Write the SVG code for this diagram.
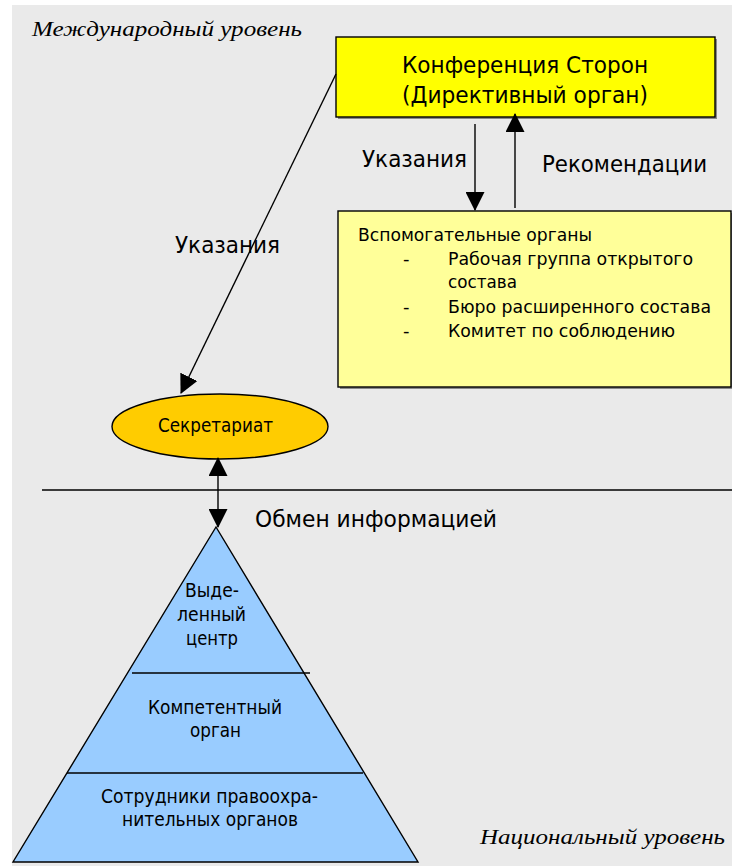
<svg xmlns="http://www.w3.org/2000/svg" width="732" height="866" viewBox="0 0 732 866">
  <style>
    .sans { font-family: "DejaVu Sans", "Noto Sans", sans-serif; fill: #000; }
    .level { font-family: "Liberation Serif", "DejaVu Serif", serif; font-style: italic; font-size: 22px; fill: #000; }
    .edge { stroke: #000; stroke-width: 1.4; fill: none; }
    .box { stroke: #000; stroke-width: 1.4; }
    .shadow { fill: #8a8a8a; }
  </style>
  <defs>
    <marker id="arrow" markerUnits="userSpaceOnUse" markerWidth="19" markerHeight="19" viewBox="0 0 19 19" refX="18" refY="9.5" orient="auto">
      <path d="M0,0 L19,9.5 L0,19 Z" fill="#000"/>
    </marker>
    <marker id="arrow-start" markerUnits="userSpaceOnUse" markerWidth="19" markerHeight="19" viewBox="0 0 19 19" refX="1" refY="9.5" orient="auto">
      <path d="M19,0 L0,9.5 L19,19 Z" fill="#000"/>
    </marker>
  </defs>

  <!-- page background -->
  <rect x="0" y="0" width="732" height="866" fill="#fff"/>
  <rect x="12" y="5" width="720" height="861" fill="#eaeaea"/>

  <!-- level captions -->
  <text class="level" x="32" y="36" textLength="270" lengthAdjust="spacingAndGlyphs">Международный уровень</text>
  <text class="level" x="480" y="844" textLength="245" lengthAdjust="spacingAndGlyphs">Национальный уровень</text>

  <!-- divider between international and national level -->
  <line x1="42" y1="490" x2="732" y2="490" class="edge"/>

  <g id="conference">
    <rect x="338" y="39" width="379" height="80" class="shadow"/>
    <rect x="336" y="37" width="379" height="80" fill="#ffff00" class="box"/>
    <text class="sans" x="402" y="73" font-size="23" textLength="246" lengthAdjust="spacingAndGlyphs">Конференция Сторон</text>
    <text class="sans" x="402" y="103" font-size="23" textLength="246" lengthAdjust="spacingAndGlyphs">(Директивный орган)</text>
  </g>

  <g id="subsidiary">
    <rect x="340" y="213" width="393" height="176" class="shadow"/>
    <rect x="338" y="211" width="393" height="176" fill="#ffff99" class="box"/>
    <text class="sans" x="358" y="241" font-size="18" textLength="234" lengthAdjust="spacingAndGlyphs">Вспомогательные органы</text>
    <text class="sans" x="403" y="265" font-size="18">-</text>
    <text class="sans" x="448" y="265" font-size="18" textLength="245" lengthAdjust="spacingAndGlyphs">Рабочая группа открытого</text>
    <text class="sans" x="448" y="288" font-size="18" textLength="69" lengthAdjust="spacingAndGlyphs">состава</text>
    <text class="sans" x="403" y="313" font-size="18">-</text>
    <text class="sans" x="448" y="313" font-size="18" textLength="263" lengthAdjust="spacingAndGlyphs">Бюро расширенного состава</text>
    <text class="sans" x="403" y="337" font-size="18">-</text>
    <text class="sans" x="448" y="337" font-size="18" textLength="227" lengthAdjust="spacingAndGlyphs">Комитет по соблюдению</text>
  </g>

  <g id="secretariat">
    <ellipse cx="220" cy="426.5" rx="108" ry="32.5" fill="#ffcc00" class="box"/>
    <text class="sans" x="158" y="432" font-size="19" textLength="115" lengthAdjust="spacingAndGlyphs">Секретариат</text>
  </g>

  <g id="pyramid">
    <polygon points="216,527 418,862 13,862" fill="#99ccff" class="box"/>
    <line x1="132" y1="673" x2="310" y2="673" class="edge"/>
    <line x1="67" y1="773" x2="363" y2="773" class="edge"/>
    <text class="sans" x="185" y="597" font-size="19" textLength="54" lengthAdjust="spacingAndGlyphs">Выде-</text>
    <text class="sans" x="177" y="621" font-size="19" textLength="69" lengthAdjust="spacingAndGlyphs">ленный</text>
    <text class="sans" x="186" y="645" font-size="19" textLength="52" lengthAdjust="spacingAndGlyphs">центр</text>
    <text class="sans" x="148" y="714" font-size="19" textLength="134" lengthAdjust="spacingAndGlyphs">Компетентный</text>
    <text class="sans" x="190" y="737" font-size="19" textLength="51" lengthAdjust="spacingAndGlyphs">орган</text>
    <text class="sans" x="101" y="803" font-size="19" textLength="217" lengthAdjust="spacingAndGlyphs">Сотрудники правоохра-</text>
    <text class="sans" x="122" y="826" font-size="19" textLength="176" lengthAdjust="spacingAndGlyphs">нительных органов</text>
  </g>

  <g id="connectors">
    <!-- guidance: conference to subsidiary bodies -->
    <line x1="475" y1="124" x2="475" y2="210" class="edge" marker-end="url(#arrow)"/>
    <!-- recommendations: subsidiary bodies to conference -->
    <line x1="515" y1="208" x2="515" y2="114" class="edge" marker-end="url(#arrow)"/>
    <!-- guidance: conference to secretariat -->
    <line x1="336" y1="74" x2="181" y2="393" class="edge" marker-end="url(#arrow)"/>
    <!-- information exchange: secretariat and national centre -->
    <line x1="218" y1="458" x2="218" y2="527" class="edge" marker-start="url(#arrow-start)" marker-end="url(#arrow)"/>
  </g>

  <g id="connector-labels">
    <text class="sans" x="362" y="167" font-size="23" textLength="105" lengthAdjust="spacingAndGlyphs">Указания</text>
    <text class="sans" x="542" y="172" font-size="23" textLength="165" lengthAdjust="spacingAndGlyphs">Рекомендации</text>
    <text class="sans" x="175" y="253" font-size="23" textLength="105" lengthAdjust="spacingAndGlyphs">Указания</text>
    <text class="sans" x="255" y="527" font-size="23" textLength="242" lengthAdjust="spacingAndGlyphs">Обмен информацией</text>
  </g>
</svg>
